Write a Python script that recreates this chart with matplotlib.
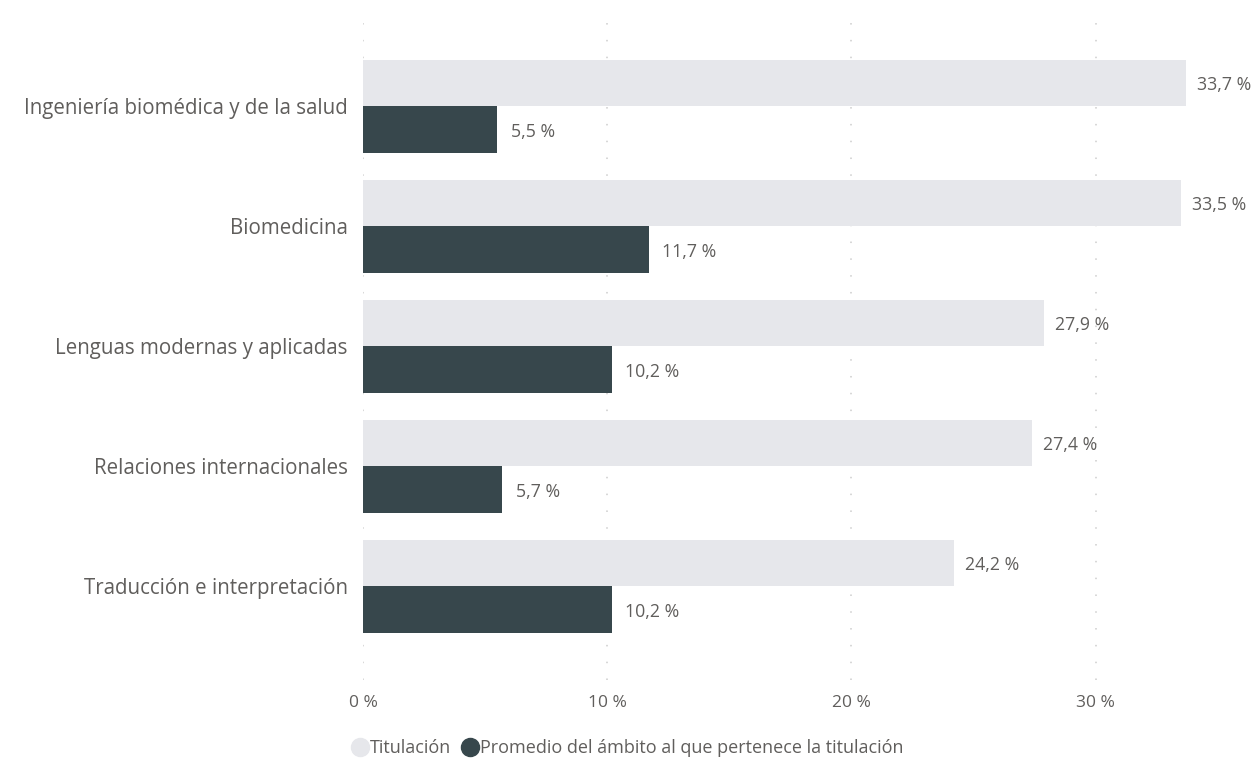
import matplotlib.pyplot as plt
from matplotlib.lines import Line2D
import numpy as np

plt.rcParams['font.family'] = ['Open Sans', 'DejaVu Sans']

categories = ['Ingeniería biomédica y de la salud', 'Biomedicina',
              'Lenguas modernas y aplicadas', 'Relaciones internacionales',
              'Traducción e interpretación']
titulacion = [33.7, 33.5, 27.9, 27.4, 24.2]
promedio = [5.5, 11.7, 10.2, 5.7, 10.2]
series_names = ['Titulación', 'Promedio del ámbito al que pertenece la titulación']
xticks = [0, 10, 20, 30]

light = '#E6E7EB'
dark = '#37474C'
txt = '#605E5C'

fig = plt.figure(figsize=(12.56, 7.59), dpi=100)
ax = fig.add_axes([0.289, 0.104, 0.661, 0.876])

y = np.arange(len(categories))
h = 0.39
ax.barh(y - h / 2, titulacion, height=h, color=light, zorder=2)
ax.barh(y + h / 2, promedio, height=h, color=dark, zorder=2)

# value labels
for i in range(len(categories)):
    ax.text(titulacion[i] + 0.45, y[i] - h / 2 + 0.02, f'{titulacion[i]:.1f} %'.replace('.', ','),
            va='center', ha='left', fontsize=12.8, color=txt, clip_on=False)
    ax.text(promedio[i] + 0.55, y[i] + h / 2 + 0.02, f'{promedio[i]:.1f} %'.replace('.', ','),
            va='center', ha='left', fontsize=12.8, color=txt, clip_on=False)

ax.set_xlim(0, 34)
ax.set_ylim(4.78, -0.76)
ax.set_yticks(y)
ax.set_yticklabels(categories, fontsize=14.8, color=txt)
ax.set_xticks(xticks)
ax.set_xticklabels([f'{t} %' for t in xticks], fontsize=12.5, color=txt)
ax.tick_params(length=0)
ax.tick_params(axis='y', pad=11)
ax.tick_params(axis='x', pad=11)
for s in ax.spines.values():
    s.set_visible(False)
ax.xaxis.grid(True, color='#CDCDCD', linestyle=(0, (1, 10)), linewidth=1.1, zorder=0)
ax.set_axisbelow(True)

handles = [Line2D([], [], marker='o', linestyle='', markersize=13, color=light),
           Line2D([], [], marker='o', linestyle='', markersize=13, color=dark)]
leg = fig.legend(handles, series_names, loc='center left', bbox_to_anchor=(0.266, 0.014),
                 ncol=2, frameon=False, fontsize=13.0, handletextpad=0.0,
                 columnspacing=0.5, handlelength=1.1)
for t in leg.get_texts():
    t.set_color(txt)

fig.savefig('out.png', dpi=100)
